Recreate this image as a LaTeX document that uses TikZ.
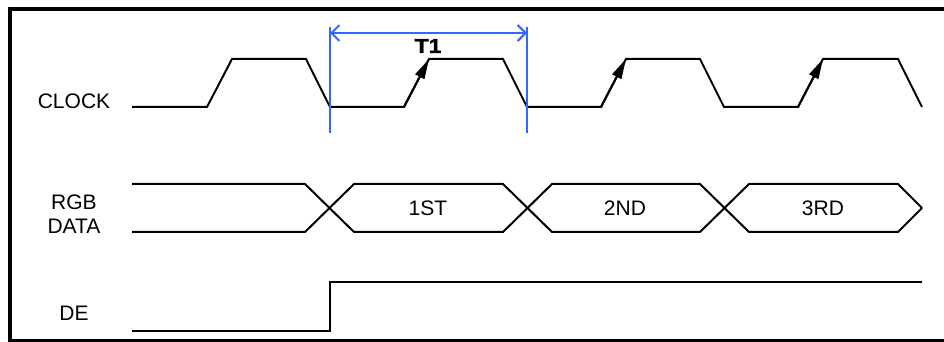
\documentclass[tikz,border=0pt]{standalone}
\usepackage{fontspec}
\setmainfont{Liberation Sans}
\newfontfamily\tonefont[FakeStretch=1.15, FakeBold=1.5]{Liberation Sans Bold}
\usepackage{xcolor}
\usetikzlibrary{arrows.meta,calc}

\definecolor{tblue}{HTML}{3366FF}

\begin{document}
\begin{tikzpicture}[x=0.5pt, y=-0.5pt,
		every node/.style={font=\fontsize{10.5}{12}\selectfont, inner sep=0pt},
		wave/.style={line width=1pt, line join=miter},
		edgearrow/.style={line width=1pt, -{Triangle[length=10pt, width=5pt]}},
		tmark/.style={draw=tblue, line width=1pt},
		frame/.style={line width=2pt}]
	\useasboundingbox (0,0) rectangle (944,342);
	
	% frame
	\draw[frame] (944,9.5) -- (9.5,9.5) -- (9.5,341) -- (944,341);
	
	% signal names
	\node (clk) at (74,101) {CLOCK};
	\node[align=center] (rgb) at (74,214) {RGB\\DATA};
	\node (de) at (74,313) {DE};
	
	% clock
	\draw[wave] (132,107) -- (207,107) -- (232,59) -- (306,59) -- (330,107)
		-- (404,107) -- (429,59) -- (503,59) -- (527,107)
		-- (601,107) -- (626,59) -- (700,59) -- (724,107)
		-- (798,107) -- (823,59) -- (898,59) -- (922,107);
	\foreach \r in {404,601,798}
		\draw[edgearrow] (\r,107) -- (\r+25,59);
	
	% period T1
	\coordinate (t1a) at (330,33);
	\coordinate (t1b) at (527,33);
	\draw[tmark] (330,27) -- (330,133);
	\draw[tmark] (527,27) -- (527,133);
	\draw[tmark, {Straight Barb[length=4pt, width=8pt]}-{Straight Barb[length=4pt, width=8pt]}] (t1a) -- (t1b);
	\node[font=\fontsize{10}{12}\tonefont] (t1) at (428,46) {T1};
	
	% rgb data
	\draw[wave] (132,184) -- (305,184) -- (354,232) -- (503,232) -- (552,184)
		-- (700,184) -- (749,232) -- (898,232) -- (922,208);
	\draw[wave] (132,232) -- (305,232) -- (354,184) -- (503,184) -- (552,232)
		-- (700,232) -- (749,184) -- (898,184) -- (922,208);
	\node (d1) at (428,208) {1ST};
	\node (d2) at (625,208) {2ND};
	\node (d3) at (823,208) {3RD};
	
	% data enable
	\draw[wave] (132,331) -- (330,331) -- (330,282) -- (922,282);
\end{tikzpicture}
\end{document}
